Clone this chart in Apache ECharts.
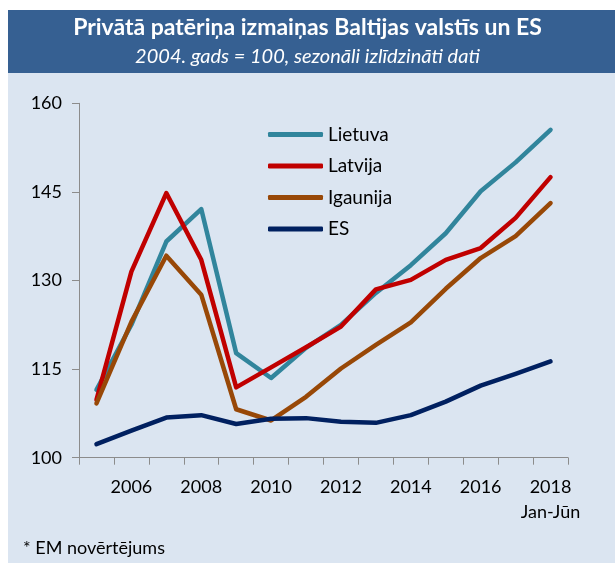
<!DOCTYPE html>
<html>
<head>
<meta charset="utf-8">
<script src="https://cdn.jsdelivr.net/npm/echarts@6/dist/echarts.min.js"></script>
<style>
html,body{margin:0;padding:0;background:#fff;}
#c{width:615px;height:563px;}
</style>
</head>
<body>
<div id="c"></div>
<script>
var years = ['2005','2006','2007','2008','2009','2010','2011','2012','2013','2014','2015','2016','2017','2018'];
var lietuva  = [111.5, 122.5, 136.6, 142.1, 117.7, 113.5, 118.6, 122.5, 127.9, 132.6, 138.0, 145.1, 150.0, 155.5];
var latvija  = [109.8, 131.5, 144.8, 133.5, 111.9, 115.3, 118.7, 122.2, 128.5, 130.1, 133.5, 135.5, 140.6, 147.5];
var igaunija = [109.2, 123.0, 134.2, 127.6, 108.2, 106.3, 110.3, 115.1, 119.1, 122.9, 128.6, 133.8, 137.5, 143.1];
var es       = [102.3, 104.6, 106.8, 107.2, 105.7, 106.6, 106.7, 106.1, 105.9, 107.2, 109.5, 112.2, 114.2, 116.3];
var seriesNames = ['Lietuva','Latvija','Igaunija','ES'];
var yTicks = [100, 115, 130, 145, 160];
var titleText = 'Privātā patēriņa izmaiņas Baltijas valstīs un ES';
var subText = '2004. gads = 100, sezonāli izlīdzināti dati';
var noteText = '* EM novērtējums';
var lastLabelExtra = 'Jan-Jūn';

var FONT = 'Lato';
var chart = echarts.init(document.getElementById('c'), null, {renderer:'canvas'});
function mk(name, data, color){
  return {name:name, type:'line', data:data, symbol:'none', smooth:false,
    lineStyle:{width:4.5, color:color, cap:'round', join:'round'}, itemStyle:{color:color}};
}
chart.setOption({
  backgroundColor:'#ffffff',
  animation:false,
  graphic:[
    {type:'rect', z:-10, shape:{x:8,y:73,width:607,height:490}, style:{fill:'#dbe5f1'}},
    {type:'rect', z:-10, shape:{x:8,y:10,width:607,height:63}, style:{fill:'#366092'}}
  ],
  title:[
    {text:titleText, left:'center', top:16, padding:0, textStyle:{color:'#ffffff', fontFamily:FONT, fontWeight:'bold', fontSize:23}},
    {text:subText, left:'center', top:47, padding:0, textStyle:{color:'#ffffff', fontFamily:FONT, fontStyle:'italic', fontWeight:'normal', fontSize:20}},
    {text:noteText, left:23, top:539, padding:0, textStyle:{color:'#000000', fontFamily:FONT, fontWeight:'normal', fontSize:18}}
  ],
  legend:{
    data:seriesNames, orient:'vertical', left:268, top:125, padding:0, itemWidth:55, itemHeight:5, itemGap:12.5,
    icon:'roundRect',
    textStyle:{fontFamily:FONT, fontSize:19, color:'#000'}
  },
  grid:{left:79, right:47, top:103.3, bottom:105.3, containLabel:false},
  xAxis:{
    type:'category', data:years, boundaryGap:true,
    axisLine:{lineStyle:{color:'#8c8c8c', width:1}},
    axisTick:{show:true, interval:0, length:7, lineStyle:{color:'#8c8c8c'}},
    axisLabel:{interval:0, margin:17, color:'#000', fontFamily:FONT, fontSize:18, lineHeight:25,
      formatter:function(v, i){ if(i%2!==1) return ''; if(i===years.length-1) return v+'\n'+lastLabelExtra; return v; }},
    splitLine:{show:false}
  },
  yAxis:{
    type:'value', min:yTicks[0], max:yTicks[yTicks.length-1], interval:15,
    axisLine:{show:true, lineStyle:{color:'#8c8c8c', width:1}},
    axisTick:{show:true, length:7, lineStyle:{color:'#8c8c8c'}},
    axisLabel:{margin:17, color:'#000', fontFamily:FONT, fontSize:18},
    splitLine:{show:false}
  },
  series:[
    mk(seriesNames[0], lietuva, '#31859c'),
    mk(seriesNames[1], latvija, '#c00000'),
    mk(seriesNames[2], igaunija, '#984807'),
    mk(seriesNames[3], es, '#002060')
  ]
});
</script>
</body>
</html>
